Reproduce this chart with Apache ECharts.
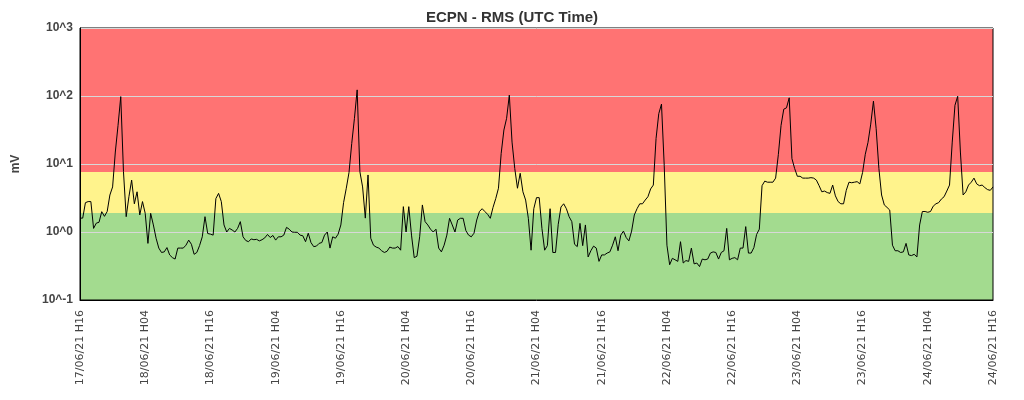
<!DOCTYPE html>
<html><head><meta charset="utf-8">
<script src="https://cdn.jsdelivr.net/npm/echarts@6/dist/echarts.min.js"></script>
<style>html,body{margin:0;padding:0;background:#fff}#c{width:1024px;height:400px}</style>
</head><body><div id="c"></div>
<script>
const tickLabels = ['17/06/21 H16','18/06/21 H04','18/06/21 H16','19/06/21 H04','19/06/21 H16','20/06/21 H04','20/06/21 H16','21/06/21 H04','21/06/21 H16','22/06/21 H04','22/06/21 H16','23/06/21 H04','23/06/21 H16','24/06/21 H04','24/06/21 H16'];
const samplesPerTick = 24; // 30-minute samples, 12 h per tick
const rmsValues = [
1.6,1.6,2.7,2.8,2.8,1.13,1.35,1.39,1.99,1.7,
2.0,3.5,4.6,15,37,98,7.7,1.68,3.3,5.8,
2.6,3.9,1.78,2.8,1.88,0.68,1.88,1.27,0.81,0.58,
0.50,0.51,0.59,0.46,0.42,0.40,0.58,0.58,0.58,0.64,
0.76,0.66,0.47,0.50,0.63,0.85,1.68,0.95,0.93,0.9,
3.1,3.7,2.8,1.27,1.0,1.13,1.07,1.0,1.13,1.42,
0.85,0.75,0.72,0.79,0.77,0.78,0.74,0.77,0.82,0.92,
0.83,0.89,0.76,0.85,0.85,0.9,1.17,1.1,1.0,0.99,
0.99,0.9,0.88,0.72,0.96,0.7,0.61,0.62,0.68,0.7,
0.9,1.0,0.58,0.85,0.81,0.93,1.27,2.7,4.4,7.5,
20,47,123,7.7,4.6,1.6,6.9,0.81,0.64,0.6,
0.58,0.53,0.5,0.52,0.6,0.58,0.58,0.61,0.54,2.36,
1.0,2.36,0.9,0.42,0.44,0.85,2.5,1.42,1.27,1.1,
1.0,1.1,0.58,0.51,0.64,0.9,1.59,1.27,1.0,1.5,
1.59,1.59,1.05,0.9,0.85,0.96,1.5,2.0,2.2,2.0,
1.82,1.59,2.3,3.1,4.4,14.3,31.6,47,103,21,
8.6,4.4,7.3,3.9,2.95,1.59,0.54,2.2,3.2,3.2,
1.13,0.54,0.63,2.2,0.5,0.5,1.3,2.33,2.6,2.2,
1.68,1.42,0.66,0.61,1.34,0.63,1.27,0.43,0.53,0.62,
0.58,0.37,0.46,0.46,0.49,0.51,0.64,0.85,0.53,0.9,
1.03,0.83,0.74,1.03,1.78,2.2,2.6,2.6,2.95,3.3,
4.3,4.9,23.7,55,76,9.6,0.64,0.33,0.41,0.39,
0.37,0.72,0.35,0.38,0.37,0.58,0.34,0.35,0.31,0.4,
0.39,0.4,0.49,0.51,0.5,0.4,0.5,0.53,1.13,0.39,
0.41,0.42,0.39,0.58,0.58,1.2,0.49,0.49,0.59,0.92,
1.1,4.8,5.6,5.4,5.4,5.4,6.2,13.7,37,64,
67,94,12,8.6,6.6,6.6,6.2,6.2,6.2,6.3,
6.2,5.8,4.8,3.9,4.0,3.8,3.7,4.9,3.4,2.8,
2.6,2.6,4.1,5.4,5.3,5.4,5.5,5.1,7.5,13.9,
20.8,38.6,84,33,8.6,3.5,2.5,2.3,2.1,0.64,
0.53,0.53,0.5,0.51,0.68,0.46,0.45,0.47,0.43,1.27,
2.0,2.0,1.95,2.0,2.4,2.6,2.7,3.05,3.3,4.0,
4.9,21,73,99,15,3.5,3.9,4.9,5.4,6.2,
5.1,4.8,4.9,4.5,4.2,4.1,4.6
];
const bandLimits = [0.1, 1.9, 7.6, 1000];
const bandColors = ['#a3db8f', '#fff38c', '#ff7373'];

const categories = rmsValues.map((v, i) => i % samplesPerTick === 0
  ? tickLabels[i / samplesPerTick]
  : tickLabels[Math.floor(i / samplesPerTick)] + ' +' + (i % samplesPerTick) * 30 + 'm');

const bands = bandColors.map((c, i) => [
  { yAxis: bandLimits[i], itemStyle: { color: c, opacity: 1 } },
  { yAxis: bandLimits[i + 1] }
]);

const chart = echarts.init(document.getElementById('c'), null, { renderer: 'canvas' });
chart.setOption({
  animation: false,
  backgroundColor: '#ffffff',
  title: {
    text: 'ECPN - RMS (UTC Time)', left: 'center', top: 5,
    textStyle: { fontFamily: 'Liberation Sans', fontWeight: 'bold', fontSize: 15, color: '#333' }
  },
  grid: {
    left: 80, right: 31, top: 28, bottom: 100,
    show: true, borderColor: '#000', borderWidth: 1,
    containLabel: false, outerBoundsMode: 'none'
  },
  xAxis: {
    type: 'category', data: categories, boundaryGap: false,
    axisLine: { show: true, lineStyle: { color: '#000', width: 1 } },
    axisTick: { show: false },
    splitLine: { show: false },
    axisLabel: {
      interval: (i) => i % samplesPerTick === 0,
      rotate: 90, margin: 10,
      fontFamily: 'DejaVu Sans', fontSize: 11, color: '#444'
    }
  },
  yAxis: {
    type: 'log', logBase: 10, min: 0.1, max: 1000,
    name: 'mV', nameLocation: 'middle', nameGap: 58, nameRotate: 90,
    nameTextStyle: { fontFamily: 'Liberation Sans', fontWeight: 'bold', fontSize: 12, color: '#444' },
    axisLine: { show: true, lineStyle: { color: '#000', width: 1 } },
    axisTick: { show: false },
    splitLine: { show: true, lineStyle: { color: '#d8d8d8', width: 1 } },
    axisLabel: {
      formatter: (v) => '10^' + Math.round(Math.log10(v)),
      fontFamily: 'Liberation Sans', fontWeight: 'bold', fontSize: 12, color: '#444', margin: 7
    }
  },
  series: [{
    type: 'line', data: rmsValues, showSymbol: false, symbol: 'none',
    lineStyle: { color: '#000', width: 1 }, z: 10, silent: true,
    markArea: { silent: true, z: -1, data: bands }
  }]
});
</script></body></html>
